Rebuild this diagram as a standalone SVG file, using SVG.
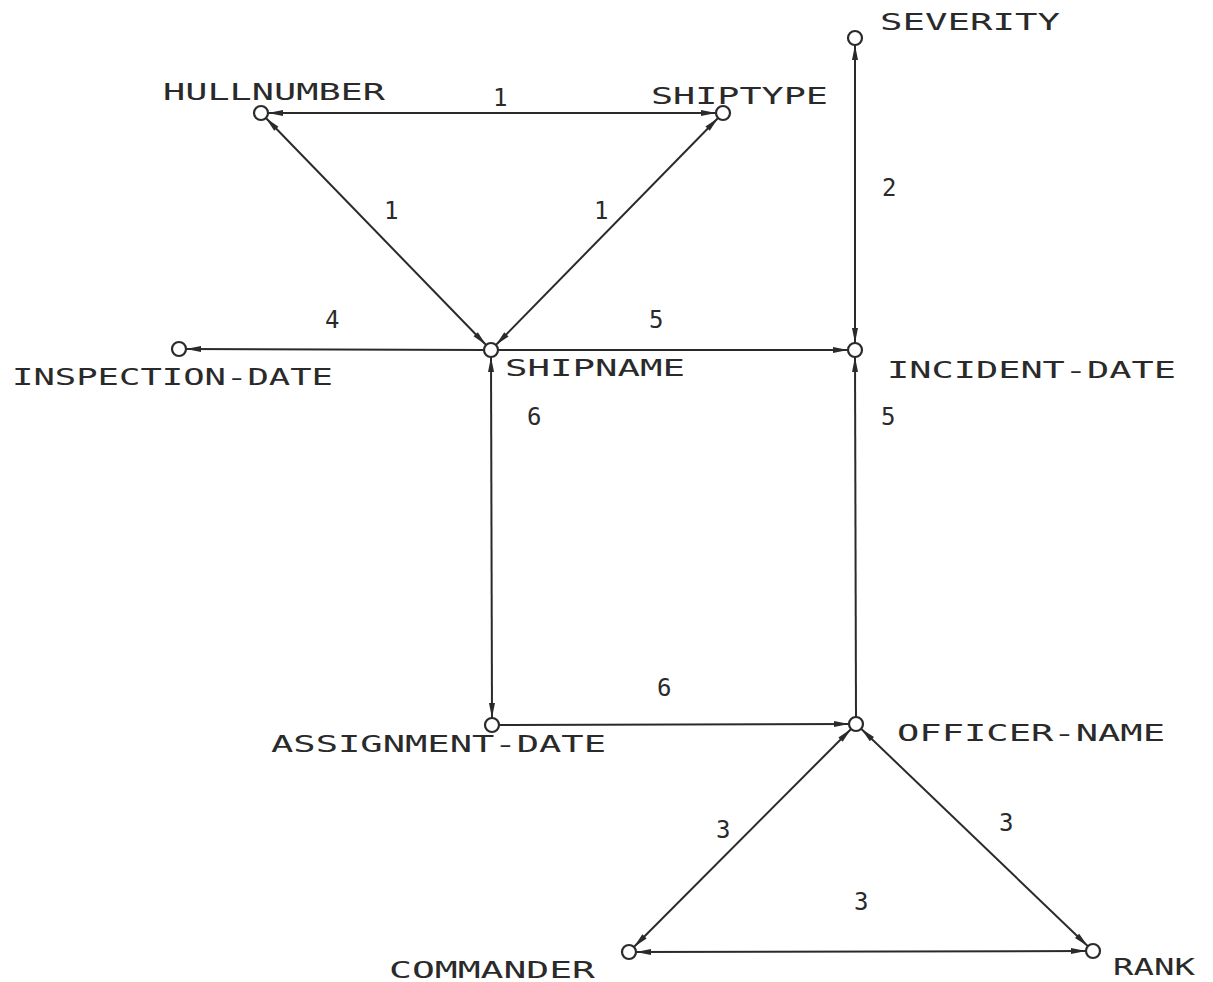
<svg xmlns="http://www.w3.org/2000/svg" width="1213" height="982" viewBox="0 0 1213 982">
<style>
.bg{fill:#ffffff}
.edge{stroke:#2a2a2a;stroke-width:2;fill:none}
.node circle{fill:#ffffff;stroke:#2a2a2a;stroke-width:2.2}
text{font-family:"DejaVu Sans Mono","Liberation Mono",monospace;font-size:23px;fill:#2a2a2a}
.num{font-size:24px}
</style>
<defs>
<marker id="ah" markerUnits="userSpaceOnUse" markerWidth="18" markerHeight="9" refX="15" refY="4.5" orient="auto-start-reverse">
<path d="M0,1.5 L15,4.5 L0,7.5 z" fill="#2a2a2a"/>
</marker>
</defs>
<rect class="bg" x="0" y="0" width="1213" height="982"/>
<g id="connectors">
<line class="edge" x1="268" y1="113" x2="716" y2="113" marker-start="url(#ah)" marker-end="url(#ah)"/>
<line class="edge" x1="265.9" y1="118" x2="486.1" y2="345" marker-start="url(#ah)" marker-end="url(#ah)"/>
<line class="edge" x1="718.1" y1="118" x2="495.9" y2="345" marker-start="url(#ah)" marker-end="url(#ah)"/>
<line class="edge" x1="484" y1="350" x2="186" y2="349" marker-end="url(#ah)"/>
<line class="edge" x1="498" y1="350" x2="848" y2="350" marker-end="url(#ah)"/>
<line class="edge" x1="491" y1="357" x2="492" y2="718" marker-start="url(#ah)" marker-end="url(#ah)"/>
<line class="edge" x1="855" y1="45" x2="855" y2="343" marker-start="url(#ah)" marker-end="url(#ah)"/>
<line class="edge" x1="856" y1="717" x2="855" y2="357" marker-end="url(#ah)"/>
<line class="edge" x1="499" y1="725" x2="849" y2="724" marker-end="url(#ah)"/>
<line class="edge" x1="851.1" y1="729" x2="633.9" y2="947" marker-start="url(#ah)" marker-end="url(#ah)"/>
<line class="edge" x1="861.1" y1="728.8" x2="1087.9" y2="946.2" marker-start="url(#ah)" marker-end="url(#ah)"/>
<line class="edge" x1="636" y1="952" x2="1086" y2="951" marker-start="url(#ah)" marker-end="url(#ah)"/>
<text class="num" x="493" y="106">1</text>
<text class="num" x="384" y="219">1</text>
<text class="num" x="594" y="219">1</text>
<text class="num" x="882" y="196">2</text>
<text class="num" x="325" y="328">4</text>
<text class="num" x="649" y="328">5</text>
<text class="num" x="527" y="425">6</text>
<text class="num" x="881" y="425">5</text>
<text class="num" x="657" y="696">6</text>
<text class="num" x="716" y="838">3</text>
<text class="num" x="999" y="831">3</text>
<text class="num" x="854" y="910">3</text>
</g>
<g id="HULLNUMBER" class="node"><circle cx="261" cy="113" r="7"/><text x="163" y="100" textLength="222" lengthAdjust="spacingAndGlyphs">HULLNUMBER</text></g>
<g id="SHIPTYPE" class="node"><circle cx="723" cy="113" r="7"/><text x="651" y="104" textLength="177" lengthAdjust="spacingAndGlyphs">SHIPTYPE</text></g>
<g id="SEVERITY" class="node"><circle cx="855" cy="38" r="7"/><text x="880" y="30" textLength="180" lengthAdjust="spacingAndGlyphs">SEVERITY</text></g>
<g id="SHIPNAME" class="node"><circle cx="491" cy="350" r="7"/><text x="505" y="376" textLength="180" lengthAdjust="spacingAndGlyphs">SHIPNAME</text></g>
<g id="INSPECTION-DATE" class="node"><circle cx="179" cy="349" r="7"/><text x="12" y="385" textLength="321" lengthAdjust="spacingAndGlyphs">INSPECTION-DATE</text></g>
<g id="INCIDENT-DATE" class="node"><circle cx="855" cy="350" r="7"/><text x="887" y="378" textLength="289" lengthAdjust="spacingAndGlyphs">INCIDENT-DATE</text></g>
<g id="ASSIGNMENT-DATE" class="node"><circle cx="492" cy="725" r="7"/><text x="271" y="752" textLength="335" lengthAdjust="spacingAndGlyphs">ASSIGNMENT-DATE</text></g>
<g id="OFFICER-NAME" class="node"><circle cx="856" cy="724" r="7"/><text x="897" y="741" textLength="268" lengthAdjust="spacingAndGlyphs">OFFICER-NAME</text></g>
<g id="COMMANDER" class="node"><circle cx="629" cy="952" r="7"/><text x="389" y="978" textLength="206" lengthAdjust="spacingAndGlyphs">COMMANDER</text></g>
<g id="RANK" class="node"><circle cx="1093" cy="951" r="7"/><text x="1113" y="975" textLength="82" lengthAdjust="spacingAndGlyphs">RANK</text></g>
</svg>
